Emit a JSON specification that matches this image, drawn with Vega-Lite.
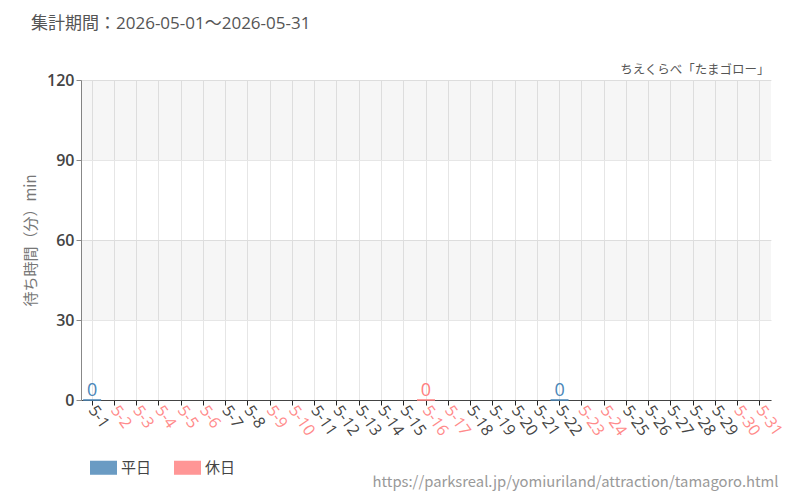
{
  "$schema": "https://vega.github.io/schema/vega-lite/v6.json",
  "width": 690,
  "height": 320,
  "autosize": {"type": "none"},
  "padding": {"left": 81, "top": 80, "right": 29, "bottom": 100},
  "background": "white",
  "title": {"text": "集計期間：2026-05-01～2026-05-31", "anchor": "start", "frame": "group", "dx": -50, "offset": 30, "fontSize": 17, "fontWeight": "normal", "color": "#555", "font": "Open Sans, Noto Sans CJK JP"},
  "config": {"view": {"stroke": null}, "font": "Noto Sans CJK JP"},
  "datasets": {
    "bands": [{"lo": 90, "hi": 120}, {"lo": 30, "hi": 60}],
    "waits": [
      {"d": "5-1", "v": 0, "t": "平日"},
      {"d": "5-16", "v": 0, "t": "休日"},
      {"d": "5-22", "v": 0, "t": "平日"}
    ]
  },
  "layer": [
    {
      "data": {"name": "bands"},
      "mark": {"type": "rect", "fill": "#000", "fillOpacity": 0.035},
      "encoding": {
        "y": {"field": "lo", "type": "quantitative", "scale": {"domain": [0, 120]},
          "axis": {"title": "待ち時間（分）min", "values": [0, 30, 60, 90, 120], "labelFont": "Open Sans", "labelFontSize": 16, "labelColor": "#444", "labelFontWeight": 600, "titleFontSize": 15, "titleColor": "#777", "titleFontWeight": "normal", "titlePadding": 8, "domainColor": "#888", "tickColor": "#888", "gridColor": "#e6e6e6", "tickSize": 5, "labelPadding": 2}},
        "y2": {"field": "hi"}
      }
    },
    {
      "data": {"name": "waits"},
      "mark": {"type": "bar", "width": 18, "strokeWidth": 1.5},
      "encoding": {
        "x": {"field": "d", "type": "nominal", "sort": null,
          "scale": {"domain": ["5-1","5-2","5-3","5-4","5-5","5-6","5-7","5-8","5-9","5-10","5-11","5-12","5-13","5-14","5-15","5-16","5-17","5-18","5-19","5-20","5-21","5-22","5-23","5-24","5-25","5-26","5-27","5-28","5-29","5-30","5-31"], "padding": 0},
          "axis": {"orient": "top", "labels": false, "ticks": false, "domain": false, "grid": false, "title": "ちえくらべ「たまゴロー」", "titleAnchor": "end", "titleAlign": "right", "titleX": 688, "titleY": -7, "titleBaseline": "alphabetic", "titleFontSize": 12.5, "titleColor": "#555", "titleFontWeight": "normal"}},
        "y": {"field": "v", "type": "quantitative", "scale": {"domain": [0, 120]},
          "axis": {"title": "待ち時間（分）min", "values": [0, 30, 60, 90, 120], "labelFont": "Open Sans", "labelFontSize": 16, "labelColor": "#444", "labelFontWeight": 600, "titleFontSize": 15, "titleColor": "#777", "titleFontWeight": "normal", "titlePadding": 8, "domainColor": "#888", "tickColor": "#888", "gridColor": "#e6e6e6", "tickSize": 5, "labelPadding": 2}},
        "color": {"field": "t", "type": "nominal", "scale": {"domain": ["平日", "休日"], "range": ["#6a9bc3", "#ff9696"]},
          "legend": {"orient": "none", "legendX": 9, "legendY": 374, "direction": "horizontal", "title": null, "symbolType": "M-1,-0.52L1,-0.52L1,0.52L-1,0.52Z", "symbolSize": 729, "labelFontSize": 15, "labelColor": "#444", "columnPadding": 22, "labelOffset": 4, "symbolStrokeWidth": 0, "symbolOpacity": 1}},
        "stroke": {"field": "t", "type": "nominal", "scale": {"domain": ["平日", "休日"], "range": ["#4a86b8", "#ff8080"]}, "legend": null}
      }
    },
    {
      "data": {"name": "waits"},
      "mark": {"type": "text", "dy": -9, "fontSize": 18, "font": "Open Sans"},
      "encoding": {
        "x": {"field": "d", "type": "nominal", "sort": null,
          "scale": {"domain": ["5-1","5-2","5-3","5-4","5-5","5-6","5-7","5-8","5-9","5-10","5-11","5-12","5-13","5-14","5-15","5-16","5-17","5-18","5-19","5-20","5-21","5-22","5-23","5-24","5-25","5-26","5-27","5-28","5-29","5-30","5-31"], "padding": 0},
          "axis": {"orient": "bottom", "labelAngle": 55, "labelFont": "Open Sans", "labelFontSize": 16,
            "labelColor": {"condition": {"test": "indexof(['5-2','5-3','5-4','5-5','5-6','5-9','5-10','5-16','5-17','5-23','5-24','5-30','5-31'], datum.value) >= 0", "value": "#ff8a8a"}, "value": "#444"},
            "tickColor": "#222", "domainColor": "#444", "grid": true, "gridColor": "#e6e6e6", "bandPosition": 0.5, "tickSize": 5, "labelPadding": 2,
            "title": "https://parksreal.jp/yomiuriland/attraction/tamagoro.html", "titleAnchor": "end", "titleAlign": "right", "titleX": 697, "titleY": 82, "titleBaseline": "middle", "titleFontSize": 14.8, "titleColor": "#999", "titleFontWeight": "normal"}},
        "y": {"field": "v", "type": "quantitative", "scale": {"domain": [0, 120]},
          "axis": {"title": "待ち時間（分）min", "values": [0, 30, 60, 90, 120], "labelFont": "Open Sans", "labelFontSize": 16, "labelColor": "#444", "labelFontWeight": 600, "titleFontSize": 15, "titleColor": "#777", "titleFontWeight": "normal", "titlePadding": 8, "domainColor": "#888", "tickColor": "#888", "gridColor": "#e6e6e6", "tickSize": 5, "labelPadding": 2}},
        "text": {"field": "v", "type": "quantitative"},
        "fill": {"field": "t", "type": "nominal", "scale": {"domain": ["平日", "休日"], "range": ["#4a86b8", "#ff8080"]}, "legend": null}
      }
    }
  ],
  "resolve": {"axis": {"x": "independent"}}
}
